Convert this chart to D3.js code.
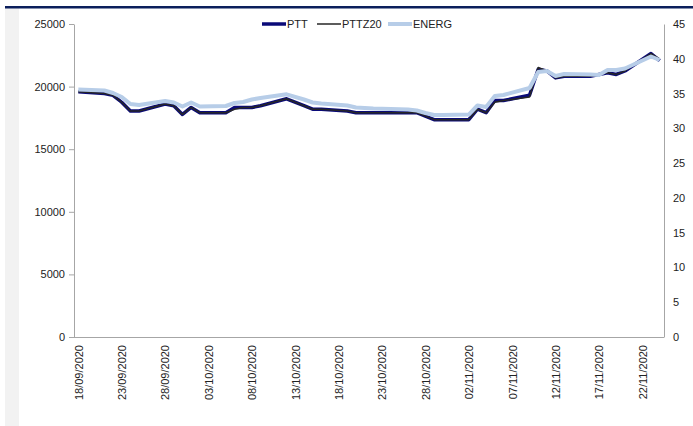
<!DOCTYPE html>
<meta charset="utf-8">
<script src="https://d3js.org/d3.v7.min.js"></script>
<style>
  body { margin: 0; background: #fff; }
  svg { display: block; font-family: Arial, "Liberation Sans", sans-serif; }
  .axis text { font-size: 11px; fill: #222; }
  .axis path, .axis line { stroke: #a6a6a6; }
  .legend text { font-size: 11px; fill: #222; }
</style>
<body></body>
<script>

// trading days
var dates = ["18/09/2020","21/09/2020","22/09/2020","23/09/2020","24/09/2020","25/09/2020",
  "28/09/2020","29/09/2020","30/09/2020","01/10/2020","02/10/2020","05/10/2020","06/10/2020",
  "07/10/2020","08/10/2020","09/10/2020","12/10/2020","14/10/2020","15/10/2020","16/10/2020",
  "19/10/2020","20/10/2020","21/10/2020","22/10/2020","26/10/2020","27/10/2020","28/10/2020",
  "29/10/2020","30/10/2020","02/11/2020","03/11/2020","04/11/2020","05/11/2020","06/11/2020",
  "09/11/2020","10/11/2020","11/11/2020","12/11/2020","13/11/2020","16/11/2020","17/11/2020",
  "18/11/2020","19/11/2020","20/11/2020","23/11/2020","24/11/2020"];

// right axis (baht)
var ptt = [35.25,35.0,34.75,33.75,32.5,32.5,33.5,33.25,32.0,33.0,32.25,32.25,33.0,33.0,33.0,33.25,
  34.25,33.25,32.75,32.75,32.5,32.25,32.25,32.25,32.25,32.25,31.75,31.25,31.25,31.25,32.75,32.25,
  34.0,34.0,34.75,38.5,38.25,37.25,37.5,37.5,37.75,38.0,37.75,38.25,40.75,39.75];

var pttz20 = [35.25,35.0,34.75,33.75,32.5,32.5,33.5,33.25,32.0,33.0,32.25,32.25,32.75,33.0,33.0,33.25,
  34.25,33.25,32.75,32.75,32.5,32.25,32.25,32.25,32.25,32.25,31.75,31.25,31.25,31.25,32.75,32.25,
  33.75,34.0,34.5,38.75,38.25,37.25,37.5,37.5,37.75,38.0,37.75,38.25,40.75,40.0];

// left axis (index)
var energ = [19768,19688,19489,19169,18610,18530,18850,18730,18410,18730,18410,18450,18690,18770,
  18970,19090,19385,18970,18730,18650,18490,18330,18290,18250,18170,18090,17890,17730,17730,17770,
  18490,18370,19250,19330,19890,21165,21245,20845,21005,20965,20925,21325,21325,21445,22405,22125];

var tickLabels = ["18/09/2020","23/09/2020","28/09/2020","03/10/2020","08/10/2020","13/10/2020",
  "18/10/2020","23/10/2020","28/10/2020","02/11/2020","07/11/2020","12/11/2020","17/11/2020","22/11/2020"];

var leftTicks = [0,5000,10000,15000,20000,25000];
var rightTicks = [0,5,10,15,20,25,30,35,40,45];

var seriesNames = ["PTT","PTTZ20","ENERG"];
var seriesColors = ["#0a0a78","#262626","#b7cde8"];
var seriesWidths = [3.5,1.5,4];

var parse = d3.timeParse("%d/%m/%Y");

var W = 693, H = 426;
var margin = {top: 24, right: 29, bottom: 89, left: 74};
var width = W - margin.left - margin.right,
    height = H - margin.top - margin.bottom;

var svg = d3.select("body").append("svg")
  .attr("width", W).attr("height", H);

// page frame bits
svg.append("rect").attr("x", 5).attr("y", 8).attr("width", 14).attr("height", H - 8).attr("fill", "#f2f2f2");
svg.append("rect").attr("x", 5).attr("y", 6).attr("width", W - 5).attr("height", 2.5).attr("fill", "#0b1f5c");

var g = svg.append("g")
  .attr("transform", "translate(" + margin.left + "," + margin.top + ")");

var first = parse(dates[0]), last = parse(dates[dates.length - 1]);
var x = d3.scaleTime()
  .domain([d3.timeHour.offset(first, -12), d3.timeHour.offset(last, 12)])
  .range([0, width]);

var yL = d3.scaleLinear().domain([0, 25000]).range([height, 0]);
var yR = d3.scaleLinear().domain([0, 45]).range([height, 0]);

// axes
var xAxis = d3.axisBottom(x)
  .tickValues(tickLabels.map(parse))
  .tickSize(0)
  .tickFormat(d3.timeFormat("%d/%m/%Y"));

var gx = g.append("g").attr("class", "x axis")
  .attr("transform", "translate(0," + height + ")")
  .call(xAxis);
gx.select(".domain").attr("d", "M0,0.5H" + width);
gx.selectAll("text")
  .attr("transform", "rotate(-90)")
  .attr("x", -8).attr("y", 0).attr("dy", "0.35em")
  .style("text-anchor", "end");

var gl = g.append("g").attr("class", "y axis")
  .call(d3.axisLeft(yL).tickValues(leftTicks).tickFormat(d3.format("d"))
    .tickSize(5).tickSizeOuter(0).tickPadding(4));

var gr = g.append("g").attr("class", "y axis")
  .attr("transform", "translate(" + width + ",0)")
  .call(d3.axisRight(yR).tickValues(rightTicks).tickFormat(d3.format("d"))
    .tickSize(0).tickSizeOuter(0).tickPadding(9));

// lines
var series = [ptt, pttz20, energ];
var scales = [yR, yR, yL];

series.forEach(function(vals, i) {
  var line = d3.line()
    .x(function(d, j) { return x(parse(dates[j])); })
    .y(function(d) { return scales[i](d); });
  g.append("path")
    .datum(vals)
    .attr("fill", "none")
    .attr("stroke", seriesColors[i])
    .attr("stroke-width", seriesWidths[i])
    .attr("stroke-linejoin", "round")
    .attr("d", line);
});

// legend
var legendX = [262, 317, 388];
var legend = svg.append("g").attr("class", "legend");
seriesNames.forEach(function(name, i) {
  legend.append("line")
    .attr("x1", legendX[i]).attr("x2", legendX[i] + 24)
    .attr("y1", 24).attr("y2", 24)
    .attr("stroke", seriesColors[i])
    .attr("stroke-width", seriesWidths[i]);
  legend.append("text")
    .attr("x", legendX[i] + 25).attr("y", 24).attr("dy", "0.35em")
    .text(name);
});
</script>
